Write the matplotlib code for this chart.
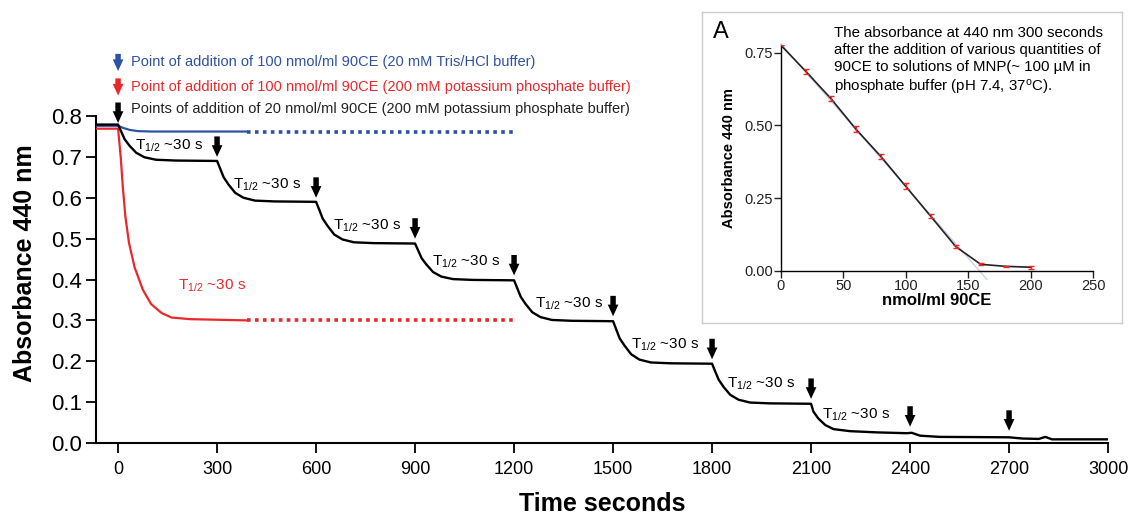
import matplotlib
matplotlib.use("Agg")
import matplotlib.pyplot as plt
import numpy as np

plt.rcParams['font.family'] = ['Liberation Sans', 'DejaVu Sans']
plt.rcParams['mathtext.fontset'] = 'custom'
plt.rcParams['mathtext.rm'] = 'Liberation Sans'
plt.rcParams['mathtext.it'] = 'Liberation Sans:italic'
plt.rcParams['mathtext.bf'] = 'Liberation Sans:bold'

BLUE = '#2f52a4'
RED = '#e8282b'

# ---- main curve data ----
# 20 nmol/ml additions, 200 mM phosphate buffer
black_t = [-67, 0, 10, 20, 35, 55, 80, 115, 175, 300,
           310, 320, 335, 355, 380, 415, 475, 600,
           610, 620, 635, 655, 680, 715, 775, 900,
           910, 920, 935, 955, 980, 1015, 1075, 1200,
           1210, 1220, 1235, 1255, 1280, 1315, 1375, 1500,
           1510, 1520, 1535, 1555, 1580, 1615, 1675, 1800,
           1810, 1820, 1835, 1855, 1880, 1915, 1975, 2100,
           2107, 2122, 2143, 2168, 2218, 2300, 2390, 2405, 2430, 2490,
           2700, 2740, 2790, 2810, 2830, 3000]
black_a = [0.779, 0.779, 0.761, 0.743, 0.727, 0.710, 0.699, 0.693, 0.691, 0.690,
           0.670, 0.650, 0.632, 0.612, 0.600, 0.593, 0.591, 0.590,
           0.570, 0.549, 0.531, 0.510, 0.498, 0.491, 0.489, 0.488,
           0.470, 0.452, 0.436, 0.418, 0.407, 0.401, 0.399, 0.398,
           0.378, 0.358, 0.340, 0.320, 0.308, 0.301, 0.299, 0.298,
           0.277, 0.256, 0.238, 0.217, 0.204, 0.197, 0.195, 0.194,
           0.174, 0.155, 0.137, 0.118, 0.106, 0.099, 0.097, 0.096,
           0.077, 0.060, 0.044, 0.034, 0.029, 0.026, 0.024, 0.025, 0.018, 0.015,
           0.014, 0.011, 0.010, 0.015, 0.009, 0.009]

# 100 nmol/ml, 20 mM Tris/HCl
blue_t = [-67, 0, 15, 35, 60, 100, 390]
blue_a = [0.776, 0.776, 0.771, 0.766, 0.763, 0.762, 0.762]
blue_dot_t = [390, 1200]
blue_dot_a = [0.762, 0.762]

# 100 nmol/ml, 200 mM phosphate
red_t = [-67, 0, 8, 14, 22, 33, 50, 75, 100, 132, 162, 218, 390]
red_a = [0.769, 0.769, 0.700, 0.630, 0.555, 0.490, 0.430, 0.375, 0.340, 0.318, 0.307, 0.303, 0.300]
red_dot_t = [390, 1200]
red_dot_a = [0.300, 0.300]

# addition arrows (time, tip absorbance)
add_t = [300, 600, 900, 1200, 1500, 1800, 2100, 2400, 2700]
add_tip = [0.700, 0.600, 0.500, 0.410, 0.310, 0.205, 0.108, 0.040, 0.030]

# T1/2 labels (time, absorbance)
half_t = [52, 348, 652, 952, 1264, 1555, 1845, 2133]
half_a = [0.726, 0.631, 0.531, 0.443, 0.340, 0.240, 0.144, 0.068]

# ---- inset data ----
conc = [0, 20, 40, 60, 80, 100, 120, 140, 160, 180, 200]
abs300 = [0.775, 0.685, 0.592, 0.487, 0.393, 0.290, 0.187, 0.083, 0.022, 0.015, 0.012]
abs_err = [0.0, 0.010, 0.008, 0.010, 0.010, 0.010, 0.007, 0.006, 0.003, 0.002, 0.005]
fit_x = [0, 165]
fit_y = [0.780, -0.030]

fig = plt.figure(figsize=(11.33, 5.19), dpi=100)
ax = fig.add_axes([0.0847, 0.1464, 0.8933, 0.6301])

ax.plot(blue_t, blue_a, color=BLUE, lw=1.6, zorder=3)
ax.plot(blue_dot_t, blue_dot_a, color=BLUE, lw=2.6, ls=(0, (1, 1.2)), zorder=3)
ax.plot(red_t, red_a, color=RED, lw=1.6, zorder=3)
ax.plot(red_dot_t, red_dot_a, color=RED, lw=2.6, ls=(0, (1, 1.2)), zorder=3)
ax.plot(black_t, black_a, color='black', lw=1.7, zorder=4)

arrow_style = 'simple,head_length=0.6,head_width=0.55,tail_width=0.28'
def down_arrow(x, tip, color='black', length=0.05):
    ax.annotate('', xy=(x, tip), xytext=(x, tip + length),
                arrowprops=dict(arrowstyle=arrow_style, color=color, lw=0,
                                mutation_scale=14, shrinkA=0, shrinkB=0),
                annotation_clip=False)

for t, tip in zip(add_t, add_tip):
    down_arrow(t, tip)

for t, a in zip(half_t, half_a):
    ax.text(t, a, r'T$_{1/2}$ ~30 s', fontsize=11, va='center', ha='left')
ax.text(182, 0.384, r'T$_{1/2}$ ~30 s', fontsize=11, va='center', ha='left', color=RED)

# legend-like header
down_arrow(0, 0.910, BLUE, 0.042)
ax.text(39, 0.931, 'Point of addition of 100 nmol/ml 90CE (20 mM Tris/HCl buffer)',
        color=BLUE, fontsize=10.5, va='center', ha='left', clip_on=False)
down_arrow(0, 0.850, RED, 0.042)
ax.text(39, 0.870, 'Point of addition of 100 nmol/ml 90CE (200 mM potassium phosphate buffer)',
        color=RED, fontsize=10.5, va='center', ha='left', clip_on=False)
down_arrow(0, 0.783, 'black', 0.05)
ax.text(39, 0.817, 'Points of addition of 20 nmol/ml 90CE (200 mM potassium phosphate buffer)',
        color='#222222', fontsize=10.5, va='center', ha='left', clip_on=False)

ax.set_xlim(-67, 3000)
ax.set_ylim(0, 0.8)
ax.set_xticks(np.arange(0, 3001, 300))
ax.set_yticks(np.arange(0, 0.81, 0.1))
ax.set_yticklabels(['%.1f' % v for v in np.arange(0, 0.81, 0.1)])
ax.spines['top'].set_visible(False)
ax.spines['right'].set_visible(False)
for s in ('left', 'bottom'):
    ax.spines[s].set_linewidth(1.5)
ax.tick_params(axis='y', direction='out', length=7, width=1.3, labelsize=16, pad=3)
ax.tick_params(axis='x', direction='out', length=7, width=1.3, labelsize=13, pad=6)
ax.set_xlabel('Time seconds', fontsize=18, fontweight='bold', labelpad=10)
ax.set_ylabel('Absorbance 440 nm', fontsize=18, fontweight='bold')
ax.yaxis.set_label_coords(-0.058, 0.55)

# ---- inset ----
frame = fig.add_axes([0.6196, 0.3776, 0.3707, 0.5992])
frame.set_xticks([])
frame.set_yticks([])
for s in frame.spines.values():
    s.set_color('#cccccc')
    s.set_linewidth(1.0)
frame.text(0.025, 0.935, 'A', fontsize=17, va='center', ha='left', transform=frame.transAxes)
frame.text(0.315, 0.955,
           'The absorbance at 440 nm 300 seconds\n'
           'after the addition of various quantities of\n'
           '90CE to solutions of MNP(~ 100 \u00b5M in\n'
           'phosphate buffer (pH 7.4, 37$^{\\mathrm{o}}$C).',
           fontsize=10.8, va='top', ha='left', linespacing=1.28,
           transform=frame.transAxes)

ins = fig.add_axes([0.6893, 0.4784, 0.2754, 0.4343])
ins.patch.set_alpha(0)
ins.plot(fit_x, fit_y, color='#c8cde6', lw=0.9, zorder=2, clip_on=False)
ins.plot(conc, abs300, color='#222222', lw=1.2, zorder=3)
ins.errorbar(conc, abs300, yerr=abs_err, fmt='none', ecolor=RED, elinewidth=1.0,
             capsize=2.5, capthick=1.0, zorder=4)
ins.set_xlim(0, 250)
ins.set_ylim(0, 0.775)
ins.set_xticks([0, 50, 100, 150, 200, 250])
ins.set_yticks([0, 0.25, 0.5, 0.75])
ins.set_yticklabels(['0.00', '0.25', '0.50', '0.75'])
ins.spines['top'].set_visible(False)
ins.spines['right'].set_visible(False)
for s in ('left', 'bottom'):
    ins.spines[s].set_linewidth(1.0)
ins.tick_params(direction='out', length=5, width=1.0, labelsize=10.5, pad=1,
                colors='#222222')
ins.set_xlabel('nmol/ml 90CE', fontsize=12, fontweight='bold', labelpad=0)
ins.set_ylabel('Absorbance 440 nm', fontsize=10.5, fontweight='bold', labelpad=6)

fig.savefig('out.png', dpi=100)
